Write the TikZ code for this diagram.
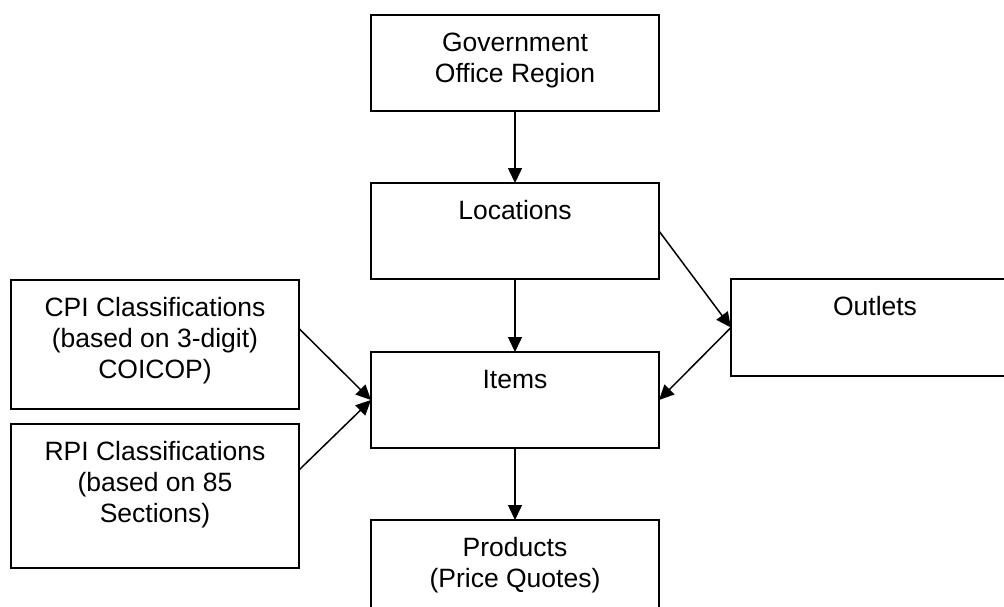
\documentclass[tikz,border=0pt]{standalone}
\usepackage{fontspec}
\setmainfont{Liberation Sans}
\usetikzlibrary{arrows.meta}
\newcommand{\bxtext}[2]{\parbox[t][#1][t]{288pt}{\centering\vspace*{14.3pt}\strut#2}}
\tikzset{
  flowbox/.style={draw=black, line width=1.9pt, inner sep=0pt, outer sep=0pt,
    font=\fontsize{26.5}{31}\selectfont},
  flowarrow/.style={draw=black, line width=1.5pt, -{Triangle[length=15pt,width=14pt]}}
}
\begin{document}
\begin{tikzpicture}[x=1pt,y=-1pt]
\useasboundingbox (0,0) rectangle (1004,606);
\clip (0,0) rectangle (1004,606);
\fill[white] (0,0) rectangle (1004,606);
\node[flowbox] (gor) at (515,63) {\bxtext{96pt}{Government\\Office Region}};
\node[flowbox] (loc) at (515,231) {\bxtext{96pt}{Locations}};
\node[flowbox] (items) at (515,400) {\bxtext{96pt}{Items}};
\node[flowbox] (prod) at (515,568) {\bxtext{96pt}{Products\\(Price Quotes)}};
\node[flowbox] (outl) at (875,327.5) {\bxtext{97pt}{Outlets}};
\node[flowbox] (cpi) at (155,344.5) {\bxtext{129pt}{CPI Classifications\\(based on 3-digit)\\COICOP)}};
\node[flowbox] (rpi) at (155,496) {\bxtext{144pt}{RPI Classifications\\(based on 85\\Sections)}};
\draw[flowarrow] (gor) -- (loc);
\draw[flowarrow] (loc) -- (items);
\draw[flowarrow] (items) -- (prod);
\draw[flowarrow] (loc.east) -- (outl.west);
\draw[flowarrow] (outl.west) -- (items.east);
\draw[flowarrow] ([yshift=16pt]cpi.east) -- (items.west);
\draw[flowarrow] ([yshift=26pt]rpi.east) -- (items.west);
\end{tikzpicture}
\end{document}
